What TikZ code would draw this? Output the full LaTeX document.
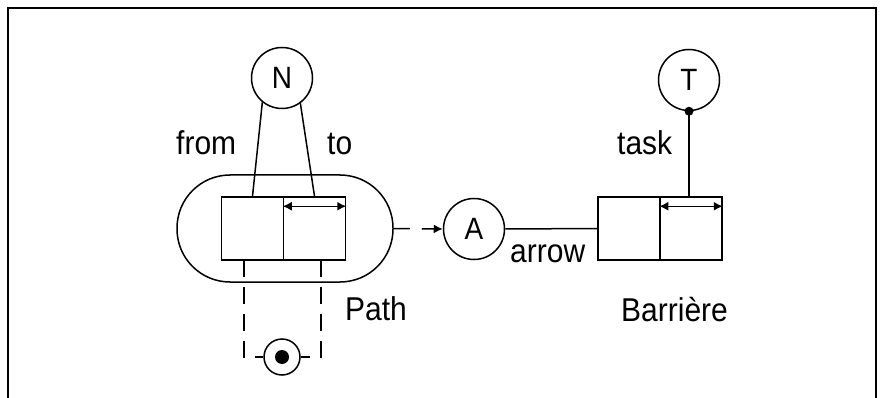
\documentclass[tikz,border=0pt]{standalone}
\usepackage{fontspec}
\setmainfont{Liberation Sans}
\usetikzlibrary{arrows.meta}
\begin{document}
\begin{tikzpicture}[x=1pt,y=-1pt,
  ln/.style={line width=1.5pt},
  cell/.style={draw,ln,minimum width=62pt,minimum height=63pt,inner sep=0pt},
  obj/.style={draw,ln,circle,minimum size=61pt,inner sep=0pt,font=\fontsize{28}{28}\selectfont},
  lbl/.style={anchor=base west,inner sep=0pt,font=\fontsize{30}{30}\selectfont},
  dsh/.style={ln,dash pattern=on 17pt off 10pt},
  dbl/.style={ln,{Latex[length=9pt,width=9pt]}-{Latex[length=9pt,width=9pt]}}
]
\useasboundingbox (0,0) rectangle (880,398);
\draw[line width=2.4pt] (8,398) -- (8,8) -- (876,8) -- (876,398);

% Path capsule
\node[draw,ln,rounded corners=53pt,minimum width=216pt,minimum height=107pt] (path) at (285,228.5) {};
\node[cell] (p1) at (252.5,228.5) {};
\node[cell] (p2) at (314.5,228.5) {};
\node[obj] (N) at (282,78) {\scalebox{1}[1.1]{N}};
\draw[ln] (N.231) -- (p1.north);
\draw[ln] (N.306) -- (p2.north);
\coordinate (pa) at ([yshift=-10pt]p2.north west);
\coordinate (pb) at ([yshift=-10pt]p2.north east);
\draw[dbl] (pa) -- (pb);
\node[lbl] (from) at (176,155) {\scalebox{1}[1.1]{from}};
\node[lbl] (to) at (327,155) {\scalebox{1}[1.1]{to}};
\node[lbl] (pathlbl) at (345,320) {\scalebox{1}[1.1]{Path}};

% collection iterator
\node[draw,ln,circle,minimum size=36pt,inner sep=0pt] (it) at (282,357) {};
\node[circle,fill,minimum size=14pt,inner sep=0pt] (itdot) at (it.center) {};
\coordinate (dl) at (244,260);
\coordinate (dr) at (321,260);
\draw[dsh] (dl) -- (dl |- it.west) -- (it.west);
\draw[dsh] (dr) -- (dr |- it.east) -- (it.east);

% Arrow
\node[obj] (A) at (474,229) {\scalebox{1}[1.1]{A}};
\draw[ln,dash pattern=on 16pt off 12pt,-{Latex[length=9pt,width=9pt]}] (path.east) -- (A.west);
\node[lbl] (arrowlbl) at (510,262) {\scalebox{1}[1.1]{arrow}};

% Barriere
\node[cell] (b1) at (629,228.5) {};
\node[cell] (b2) at (691,228.5) {};
\draw[ln] (A.east) -- (b1.west);
\node[obj] (T) at (689,80) {\scalebox{1}[1.1]{T}};
\coordinate (ba) at ([yshift=-10pt]b2.north west);
\coordinate (bb) at ([yshift=-10pt]b2.north east);
\draw[dbl] (ba) -- (bb);
\draw[ln] (T.south) -- (T.south |- b2.north);
\fill (T.south) circle (4.5pt);
\node[lbl] (task) at (617,155) {\scalebox{1}[1.1]{task}};
\node[lbl] (barr) at (621,321) {\scalebox{1}[1.1]{Barrière}};
\end{tikzpicture}
\end{document}
